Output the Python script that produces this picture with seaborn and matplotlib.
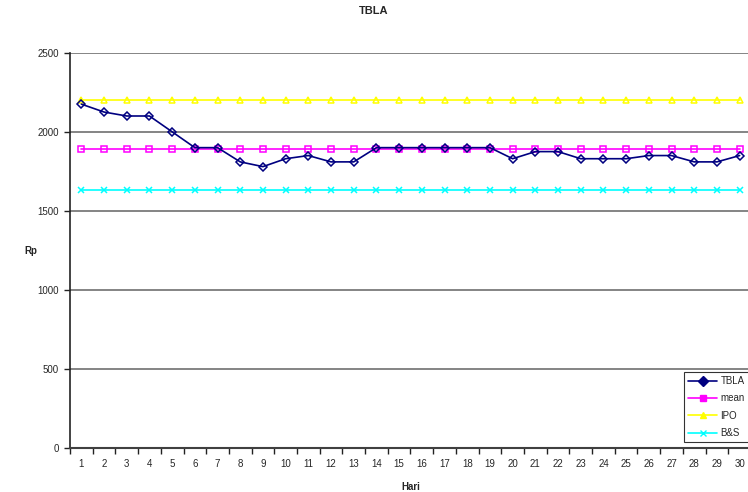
import numpy as np
import pandas as pd
import seaborn as sns
import matplotlib.pyplot as plt
from matplotlib.lines import Line2D

# Day numbers and prices
hari = list(range(1, 31))
tbla = [2175, 2125, 2100, 2100, 2000, 1900, 1900, 1810, 1780, 1830,
        1850, 1810, 1810, 1900, 1900, 1900, 1900, 1900, 1900, 1830,
        1875, 1875, 1830, 1830, 1830, 1850, 1850, 1810, 1810, 1850]
mean_val = [1894] * 30
ipo = [2200] * 30
bns = [1635] * 30

series_names = ['TBLA', 'mean', 'IPO', 'B&S']
colors = ['#000080', '#FF00FF', '#FFFF00', '#00FFFF']
markers = ['D', 's', '^', 'x']
msizes = [3.8, 5, 5, 5]

df = pd.DataFrame({'Hari': hari * 4,
                   'Rp': tbla + mean_val + ipo + bns,
                   'series': np.repeat(series_names, 30)})

sns.set_style('white')
plt.rcParams['font.family'] = ['Liberation Sans', 'DejaVu Sans']

fig = plt.figure(figsize=(7.48, 4.92), dpi=100)
ax = fig.add_axes([70 / 748, 1 - 448.3 / 492, 681 / 748, (448.3 - 52.7) / 492])

# draw back to front so TBLA sits on top
for name, c, m, ms in reversed(list(zip(series_names, colors, markers, msizes))):
    sub = df[df['series'] == name]
    sns.lineplot(data=sub, x='Hari', y='Rp', ax=ax, color=c, linewidth=1.2,
                 marker=m, markersize=ms, markerfacecolor='none' if m != 'x' else c,
                 markeredgecolor=c, markeredgewidth=1.1, legend=False)

ax.set_xlim(0.5, 30.5)
ax.set_ylim(0, 2500)
ax.set_yticks([0, 500, 1000, 1500, 2000, 2500])
ax.set_xticks(hari)
ax.set_xticks(np.arange(0.5, 31, 1), minor=True)
ax.tick_params(axis='x', which='major', length=0, labelsize=7, pad=8)
ax.tick_params(axis='x', which='minor', length=4, direction='out', width=1, color='#222222')
ax.tick_params(axis='y', length=4, direction='out', width=1, color='#222222', labelsize=7, pad=4)
ax.tick_params(axis='y', which='both', left=True)
ax.tick_params(axis='x', which='minor', bottom=True)
ax.grid(axis='y', color='#707070', linewidth=1.2)
ax.set_axisbelow(True)

for s in ['top', 'right']:
    ax.spines[s].set_visible(False)
ax.spines['left'].set_color('#222222')
ax.spines['bottom'].set_color('#404040')
ax.spines['left'].set_linewidth(1.2)
ax.spines['bottom'].set_linewidth(1.5)

ax.set_xlabel('Hari', fontsize=7, fontweight='bold', labelpad=9)
ax.set_ylabel('Rp', fontsize=7, fontweight='bold', rotation=0, va='center')
ax.yaxis.set_label_coords(-0.058, 0.5)
fig.text(0.5, 0.988, 'TBLA', ha='center', va='top', fontsize=8, fontweight='bold')

handles = [Line2D([0], [0], color=c, marker=m, markersize=5, markerfacecolor=c,
                  markeredgecolor=c, linewidth=1.2) for c, m in zip(colors, markers)]
leg = ax.legend(handles, series_names, loc='lower right', bbox_to_anchor=(0.997, 0.015),
                fontsize=7, frameon=True, fancybox=False, edgecolor='black',
                handlelength=3, borderpad=0.45, labelspacing=0.75, handletextpad=0.3,
                borderaxespad=0)
leg.get_frame().set_linewidth(0.8)

fig.savefig('out.png', dpi=100)
